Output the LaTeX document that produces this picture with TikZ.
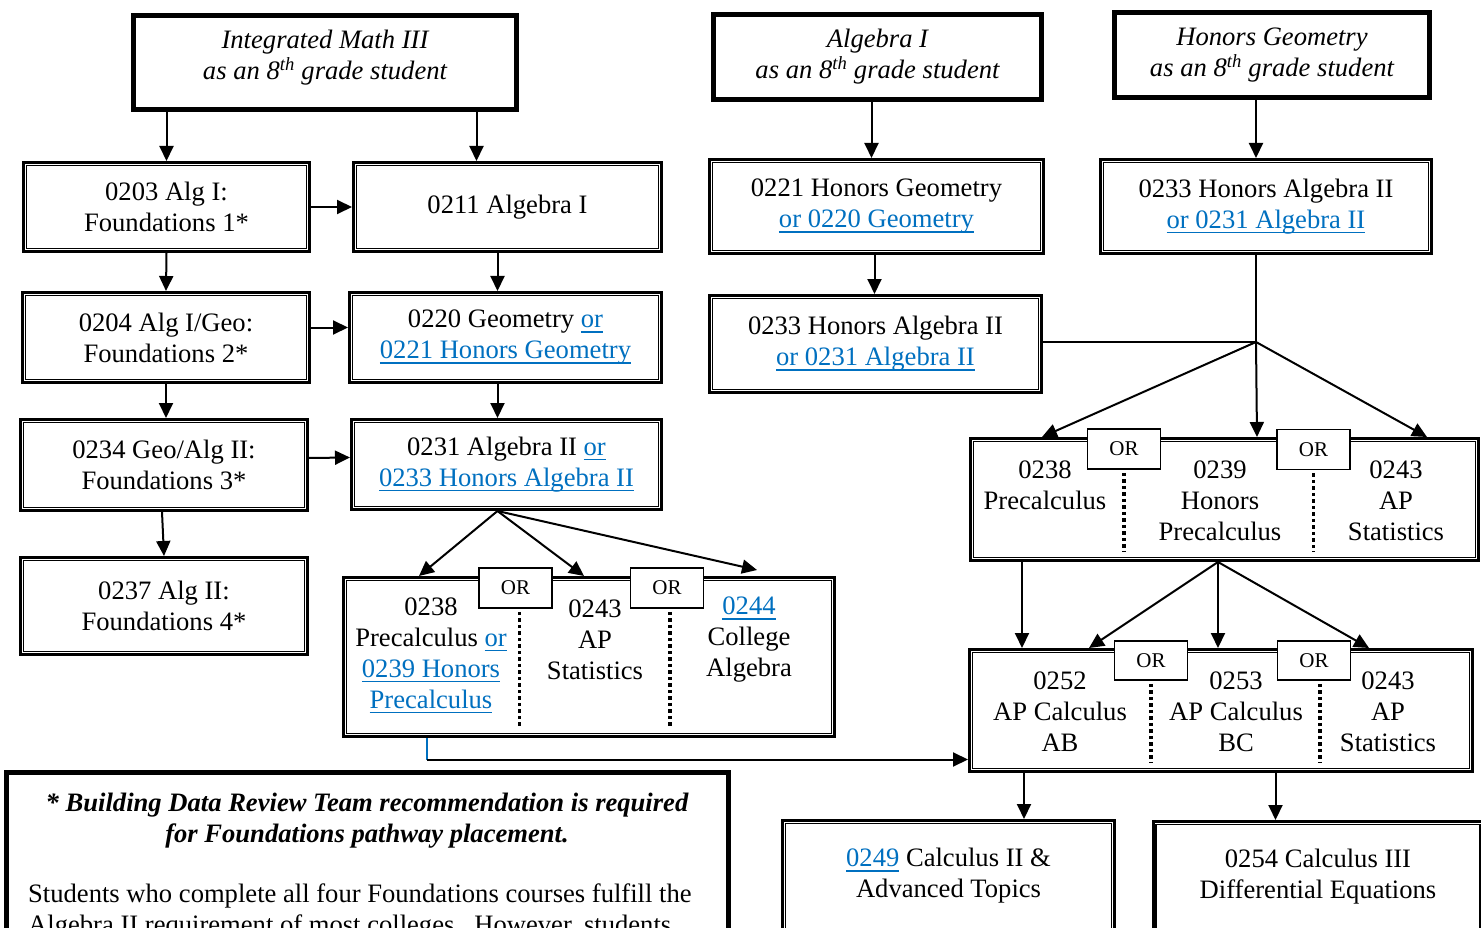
\documentclass[tikz,border=0pt]{standalone}
\usepackage{fontspec}
\setmainfont{Liberation Serif}
\usetikzlibrary{arrows.meta}
\definecolor{linkblue}{RGB}{0,112,192}
\newcommand{\lnk}[1]{\textcolor{linkblue}{\setbox0\hbox{#1}\rlap{\rule[-5pt]{\wd0}{1.8pt}}\box0}}
\begin{document}
\begin{tikzpicture}[x=1pt,y=-1pt]
	\tikzset{
		txt/.style={font=\fontsize{26.6}{31}\selectfont, align=center, inner sep=0pt},
		startbox/.style={txt, draw, line width=5pt, font=\itshape\fontsize{26.6}{31}\selectfont},
		coursebox/.style={txt, draw, line width=3pt,
			append after command={\pgfextra{\draw[line width=1.5pt] ([shift={(4.5pt,-4.5pt)}]\tikzlastnode.north west) rectangle ([shift={(-4.5pt,4.5pt)}]\tikzlastnode.south east);}}},
		orbox/.style={draw, fill=white, line width=1.5pt, font=\fontsize{21}{24}\selectfont, minimum width=73pt, minimum height=40pt, inner sep=0pt},
		orline/.style={line width=3.5pt, dash pattern=on 3.5pt off 3pt, shorten <=3pt, shorten >=10pt},
		flow/.style={line width=2pt, -{Triangle[length=15pt,width=14pt]}}
	}
	\useasboundingbox (0,0) rectangle (1481,928);
	\clip (0,0) rectangle (1481,928);
	\fill[white] (0,0) rectangle (1481,928);

	% 8th grade starting points
	\node[startbox, minimum width=383pt, minimum height=94pt, text depth=15pt] (im3) at (325,62.5) {Integrated Math III\\as an 8\textsuperscript{th} grade student};
	\node[startbox, minimum width=328pt, minimum height=85pt] (alg8) at (877.5,57) {Algebra I\\as an 8\textsuperscript{th} grade student};
	\node[startbox, minimum width=315pt, minimum height=85pt] (geo8) at (1272,55) {Honors Geometry\\as an 8\textsuperscript{th} grade student};

	% Foundations column
	\node[coursebox, minimum width=286pt, minimum height=89pt] (a203) at (166.5,207) {0203 Alg I:\\Foundations 1*};
	\node[coursebox, minimum width=287pt, minimum height=90pt] (a204) at (166,337.5) {0204 Alg I/Geo:\\Foundations 2*};
	\node[coursebox, minimum width=287pt, minimum height=91pt] (a234) at (164,465) {0234 Geo/Alg II:\\Foundations 3*};
	\node[coursebox, minimum width=287pt, minimum height=97pt] (a237) at (164,606) {0237 Alg II:\\Foundations 4*};

	% Regular column
	\node[coursebox, minimum width=308pt, minimum height=89pt] (a211) at (507.5,207) {0211 Algebra I};
	\node[coursebox, minimum width=312pt, minimum height=90pt] (a220) at (505.5,337.5) {0220 Geometry \lnk{or}\\\lnk{0221 Honors Geometry}};
	\node[coursebox, minimum width=310pt, minimum height=90pt] (a231) at (506.5,464.5) {0231 Algebra II \lnk{or}\\\lnk{0233 Honors Algebra II}};

	% Honors columns
	\node[coursebox, minimum width=334pt, minimum height=94pt] (h221) at (876.5,206.5) {0221 Honors Geometry\\\lnk{or 0220 Geometry}};
	\node[coursebox, minimum width=332pt, minimum height=97pt] (h233m) at (875.5,344) {0233 Honors Algebra II\\\lnk{or 0231 Algebra II}};
	\node[coursebox, minimum width=331pt, minimum height=94pt] (h233r) at (1266,206.5) {0233 Honors Algebra II\\\lnk{or 0231 Algebra II}};

	% Choice groups
	\node[coursebox, minimum width=491pt, minimum height=159pt] (gA) at (589,657) {};
	\node[txt] (gA1) at (431,655.5) {0238\\Precalculus \lnk{or}\\\lnk{0239 Honors}\\\lnk{Precalculus}};
	\node[txt] (gA2) at (595,640) {0243\\AP\\Statistics};
	\node[txt] (gA3) at (749,640) {\lnk{0244}\\College\\Algebra};

	\node[coursebox, minimum width=508pt, minimum height=122pt] (gB) at (1224.5,499.5) {};
	\node[txt] (gB1) at (1045,485.5) {0238\\Precalculus};
	\node[txt] (gB2) at (1220,501) {0239\\Honors\\Precalculus};
	\node[txt] (gB3) at (1396,501) {0243\\AP\\Statistics};

	\node[coursebox, minimum width=503pt, minimum height=122pt] (gC) at (1221,710.5) {};
	\node[txt] (gC1) at (1060,712) {0252\\AP Calculus\\AB};
	\node[txt] (gC2) at (1236,712) {0253\\AP Calculus\\BC};
	\node[txt] (gC3) at (1388,712) {0243\\AP\\Statistics};

	\node[coursebox, minimum width=332pt, minimum height=111pt] (c249) at (948.5,876) {\lnk{0249} Calculus II \&\\Advanced Topics};
	\node[coursebox, minimum width=330pt, minimum height=111pt] (c254) at (1318,877) {0254 Calculus III\\Differential Equations};

	% OR tags and separators
	\node[orbox] (orA1) at (515.5,588) {OR};
	\node[orbox] (orA2) at (667,588) {OR};
	\node[orbox] (orB1) at (1124,449) {OR};
	\node[orbox] (orB2) at (1313.5,449.5) {OR};
	\node[orbox, minimum height=39pt] (orC1) at (1151,660.5) {OR};
	\node[orbox, minimum height=39pt] (orC2) at (1314,660.5) {OR};
	\draw[orline] ([xshift=4pt]orA1.south) -- ([xshift=4pt]orA1.south |- gA.south);
	\draw[orline] ([xshift=3pt]orA2.south) -- ([xshift=3pt]orA2.south |- gA.south);
	\draw[orline] (orB1.south) -- (orB1.south |- gB.south);
	\draw[orline] (orB2.south) -- (orB2.south |- gB.south);
	\draw[orline] (orC1.south) -- (orC1.south |- gC.south);
	\draw[orline] ([xshift=6pt]orC2.south) -- ([xshift=6pt]orC2.south |- gC.south);

	% Note
	\node[draw, line width=5pt, minimum width=722pt, minimum height=200pt] (note) at (367.5,872.5) {};
	\node[txt, font=\bfseries\itshape\fontsize{26.6}{31}\selectfont] (notehead) at (367,821) {* Building Data Review Team recommendation is required\\for Foundations pathway placement.};
	\node[txt, align=left, anchor=west] (notebody) at (28,911) {Students who complete all four Foundations courses fulfill the\\Algebra II requirement of most colleges.\ \ However, students};

	% Arrows, left side
	\coordinate (t211) at ([xshift=-31pt]a211.north);
	\draw[flow] (im3.south -| a203.north) -- (a203.north);
	\draw[flow] (im3.south -| t211) -- (t211);
	\draw[flow] (a203.east) -- (a211.west);
	\draw[flow] (a203.south) -- (a204.north);
	\draw[flow] ([xshift=-10pt]a211.south) -- ([xshift=-8pt]a220.north);
	\draw[flow] ([yshift=10pt]a204.east) -- ([yshift=10pt]a220.west);
	\draw[flow] (a204.south) -- (a204.south |- a234.north);
	\draw[flow] ([xshift=-8pt]a220.south) -- ([xshift=-9pt]a231.north);
	\draw[flow] ([yshift=7pt]a234.east) -- ([yshift=7pt]a231.west);
	\draw[flow] ([xshift=-2pt]a234.south) -- (a237.north);
	\coordinate (fA) at ([xshift=-9pt]a231.south);
	\draw[flow] (fA) -- ([xshift=77pt]gA.north west);
	\draw[flow] (fA) -- ([xshift=242pt]gA.north west);
	\draw[flow] (fA) -- ([xshift=415pt,yshift=6pt]gA.north west);

	% Arrows, right side
	\draw[flow] ([xshift=-6pt]alg8.south) -- ([xshift=-5pt]h221.north);
	\draw[flow] ([xshift=-2pt]h221.south) -- ([xshift=-2pt]h221.south |- h233m.north);
	\draw[flow] ([xshift=-16pt]geo8.south) -- ([xshift=-10pt]h233r.north);
	\coordinate (jB) at (1256,342);
	\draw[line width=1.5pt] ([xshift=-10pt]h233r.south) -- (jB);
	\draw[line width=1.5pt] (jB -| h233m.east) -- (jB);
	\draw[flow] (jB) -- ([xshift=73pt]gB.north west);
	\draw[flow] (jB) -- ([xshift=288pt]gB.north west);
	\draw[flow] (jB) -- ([xshift=458pt]gB.north west);
	\draw[flow] ([xshift=53pt]gB.south west) -- ([xshift=54pt]gC.north west);
	\coordinate (fB) at ([xshift=249pt]gB.south west);
	\draw[flow] (fB) -- ([xshift=121pt]gC.north west);
	\draw[flow] (fB) -- ([xshift=250pt]gC.north west);
	\draw[flow] (fB) -- ([xshift=401pt]gC.north west);
	\coordinate (sA) at ([xshift=85pt]gA.south west);
	\coordinate (eA) at ([yshift=13.5pt]gC.south west);
	\draw[linkblue, line width=1.5pt] (sA) -- (sA |- eA);
	\draw[flow] (sA |- eA) -- (eA);
	\coordinate (sC1) at ([xshift=56pt]gC.south west);
	\coordinate (sC2) at ([xshift=307.5pt]gC.south west);
	\draw[flow] (sC1) -- (sC1 |- c249.north);
	\draw[flow] (sC2) -- (sC2 |- c254.north);
\end{tikzpicture}
\end{document}
